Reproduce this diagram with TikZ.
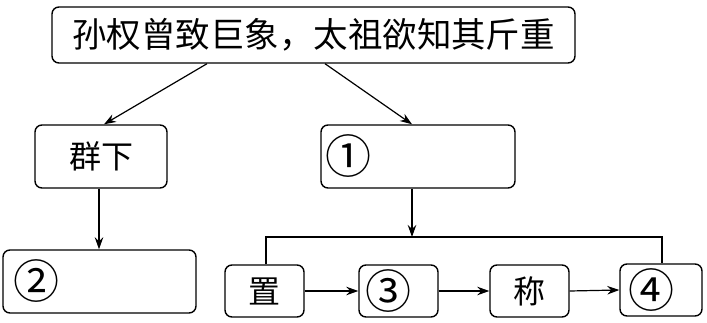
\documentclass[tikz,border=0pt]{standalone}
\usepackage{fontspec}
\setmainfont{Noto Sans CJK SC}
\usetikzlibrary{arrows.meta}
\begin{document}
\begin{tikzpicture}[x=1pt,y=-1pt,
  box/.style={draw, line width=1.4pt, rounded corners=7pt, inner sep=0pt},
  lbox/.style={box, align=left, inner ysep=0pt, font=\fontsize{46}{50}\selectfont},
  arr/.style={-{Stealth[length=12pt,width=8.5pt]}, line width=1.2pt},
  conn/.style={line width=1.2pt},
  big/.style={font=\fontsize{34.5}{40}\selectfont},
  mid/.style={font=\fontsize{32}{38}\selectfont}]
\useasboundingbox (0,0) rectangle (707,323);
\node[box, big, minimum width=523pt, minimum height=56pt] (top) at (313.5,35) {孙权曾致巨象，太祖欲知其斤重};
\node[box, mid, minimum width=132pt, minimum height=63pt] (qx) at (101,156.5) {群下};
\node[lbox, inner xsep=4pt, text width=186pt, minimum height=63pt] (b1) at (418,156.5) {①};
\node[lbox, inner xsep=10pt, text width=173pt, minimum height=63pt] (b2) at (99.5,281.5) {②};
\node[box, mid, minimum width=79pt, minimum height=52pt] (zhi) at (264.5,291) {置};
\node[lbox, inner xsep=6pt, text width=67pt, minimum height=52pt] (b3) at (398.5,291) {③};
\node[box, mid, minimum width=79pt, minimum height=52pt] (cheng) at (529.5,291) {称};
\node[lbox, inner xsep=8pt, text width=66pt, minimum height=52pt] (b4) at (661,290) {④};
\coordinate (br) at (412,237);
\draw[arr] ([xshift=-106.5pt]top.south) -- ([xshift=3pt]qx.north);
\draw[arr] ([xshift=11.5pt]top.south) -- ([xshift=-6pt]b1.north);
\draw[arr] ([xshift=-2pt]qx.south) -- ([xshift=-2pt]qx.south |- b2.north);
\draw[arr] ([xshift=-6pt]b1.south) -- (br);
\draw[conn] ([xshift=1.5pt]zhi.north) |- (br) -| ([xshift=1pt]b4.north);
\draw[arr] (zhi.east) -- (b3.west);
\draw[arr] (b3.east) -- (cheng.west);
\draw[arr] (cheng.east) -- (b4.west);
\end{tikzpicture}
\end{document}
